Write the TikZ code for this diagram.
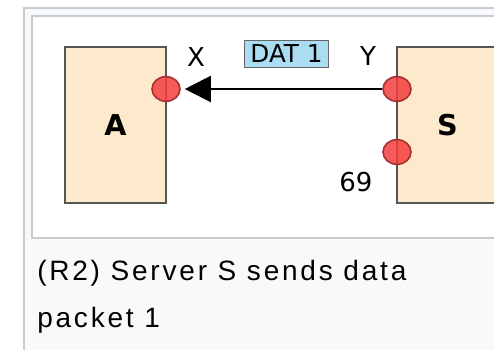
\documentclass[tikz,border=0pt]{standalone}
\usepackage{fontspec}
\setmainfont{DejaVu Sans}
\newfontfamily\captionfont[LetterSpace=10]{Liberation Sans}
\usetikzlibrary{arrows.meta, shapes.geometric}
\definecolor{framegray}{HTML}{C8CCD1}
\definecolor{framebg}{HTML}{F8F9FA}
\definecolor{hostfill}{HTML}{FDEACD}
\definecolor{hostborder}{HTML}{555555}
\definecolor{portred}{HTML}{F43F3F}
\definecolor{portredborder}{HTML}{A83030}
\definecolor{packetblue}{HTML}{AADDF2}
\definecolor{packetborder}{HTML}{666666}

\begin{document}
\begin{tikzpicture}[x=0.75pt, y=-0.75pt,
    host/.style={draw=hostborder, fill=hostfill, line width=1.5pt,
      minimum width=75.75pt, minimum height=117pt, inner sep=0pt,
      font=\bfseries\fontsize{21.5}{24}\selectfont},
    port/.style={ellipse, draw=portredborder, fill=portred, fill opacity=0.85,
      line width=1.2pt, minimum width=21pt, minimum height=18.5pt, inner sep=0pt},
    packet/.style={draw=packetborder, fill=packetblue, line width=1.2pt,
      inner xsep=4.5pt, inner ysep=3.5pt, font=\fontsize{18.5}{20}\selectfont},
    portlabel/.style={inner sep=0pt, font=\fontsize{19.5}{22}\selectfont},
    >=Triangle
  ]
  \useasboundingbox (0,0) rectangle (494,350);
  \clip (0,0) rectangle (494,350);
  % frame
  \draw[framegray, fill=framebg, line width=1.5pt] (24,8) rectangle (530,380);
  \draw[framegray, fill=white, line width=1.5pt] (32,16) rectangle (530,238);
  % hosts and ports
  \node[host] (A) at (115.5,125) {A};
  \node[host] (S) at (447.5,125) {S};
  \node[port] (portX) at (166,89) {};
  \node[port] (portY) at (397,89) {};
  \node[port] (port69) at (397,152) {};
  \node[portlabel] (labelX) at (196,57) {X};
  \node[portlabel] (labelY) at (368,56) {Y};
  \node[portlabel] (label69) at (356,182) {69};
  \node[packet] (dat) at (286.5,54) {DAT 1};
  \draw[-{Triangle[length=19.5pt, width=19.5pt]}, line width=1.5pt,
    shorten >=3pt] (portY) -- (portX);
  % caption
  \node[anchor=base west, align=left, inner sep=0pt,
    font=\captionfont\fontsize{21}{35.25}\selectfont] (caption)
    at (37,327) {(R2) Server S sends data\\packet 1};
\end{tikzpicture}
\end{document}
